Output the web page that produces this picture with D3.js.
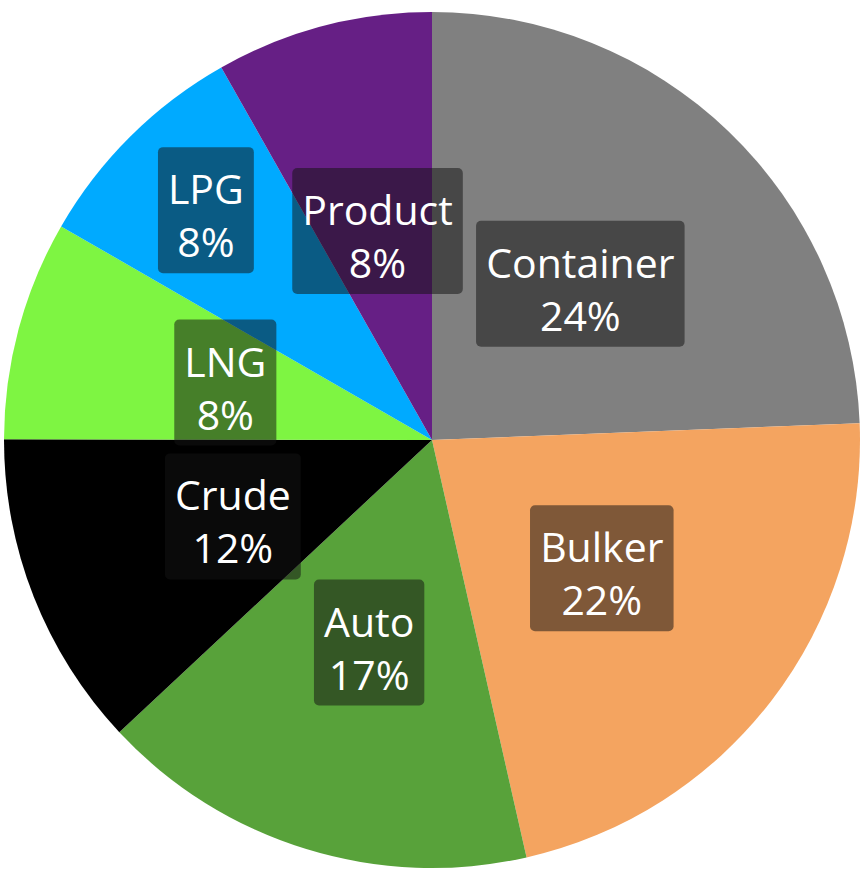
<!DOCTYPE html>
<html lang="en">
<head>
<meta charset="UTF-8">
<title>Fleet mix</title>
<script src="https://cdn.jsdelivr.net/npm/d3@7/dist/d3.min.js"></script>
<style>
body { margin: 0; background: #fff; }
.lbl text { font: 41px "Open Sans", sans-serif; fill: #fff; }
</style>
</head>
<body>
<svg width="868" height="877"></svg>
<script>
// slice data, clockwise from 12 o'clock
var categories = ["Container", "Bulker", "Auto", "Crude", "LNG", "LPG", "Product"];
var shares = [24.4, 22.1, 16.6, 12.0, 8.3, 8.5, 8.2];
var colors = ["#808080", "#f4a460", "#58a23a", "#000000", "#7ef542", "#00aaff", "#661f85"];

var svg = d3.select("svg");
var cx = 432, cy = 440, R = 428;

var data = categories.map(function(c, i) { return { name: c, value: shares[i], color: colors[i] }; });
var total = d3.sum(shares);

var pie = d3.pie().value(function(d) { return d.value; }).sort(null);
var arcs = pie(data);
var arc = d3.arc().innerRadius(0).outerRadius(R);

var g = svg.append("g").attr("transform", "translate(" + cx + "," + cy + ")");

g.selectAll("path.slice").data(arcs).enter().append("path")
  .attr("class", "slice")
  .attr("d", arc)
  .attr("fill", function(d) { return d.data.color; });

// labels
var lg = g.selectAll("g.lbl").data(arcs).enter().append("g").attr("class", "lbl");
var rect = lg.append("rect").attr("rx", 5).attr("ry", 5).attr("fill", "rgba(19,19,19,0.52)");
var txt = lg.append("text").attr("text-anchor", "middle");
txt.append("tspan").attr("x", 0).attr("y", -8).text(function(d) { return d.data.name; });
txt.append("tspan").attr("x", 0).attr("y", 45).text(function(d) { return Math.round(d.value / total * 100) + "%"; });

lg.each(function(d) {
  var b = d3.select(this).select("text").node().getBBox();
  d.w = b.width + 20;
  d.h = 126;
  d3.select(this).select("rect")
    .attr("x", -d.w / 2).attr("y", -d.h / 2 - 2)
    .attr("width", d.w).attr("height", d.h);
  d.lr = 0.5 * R;
});

function place(d) {
  var a = (d.startAngle + d.endAngle) / 2;
  d.lx = Math.sin(a) * d.lr;
  d.ly = -Math.cos(a) * d.lr;
}
function overlap(a, b) {
  return Math.abs(a.lx - b.lx) < (a.w + b.w) / 2 && Math.abs(a.ly - b.ly) < (a.h + b.h) / 2;
}
arcs.forEach(place);
// push the most crowded label outward until nothing overlaps
for (var k = 0; k < 5; k++) {
  var counts = arcs.map(function(a) {
    return arcs.filter(function(b) { return a !== b && overlap(a, b); }).length;
  });
  var mx = d3.max(counts);
  if (mx === 0) break;
  arcs.forEach(function(d, i) { if (counts[i] === mx) { d.lr = 0.75 * R; place(d); } });
}

lg.attr("transform", function(d) { return "translate(" + d.lx + "," + d.ly + ")"; });
</script>
</body>
</html>
